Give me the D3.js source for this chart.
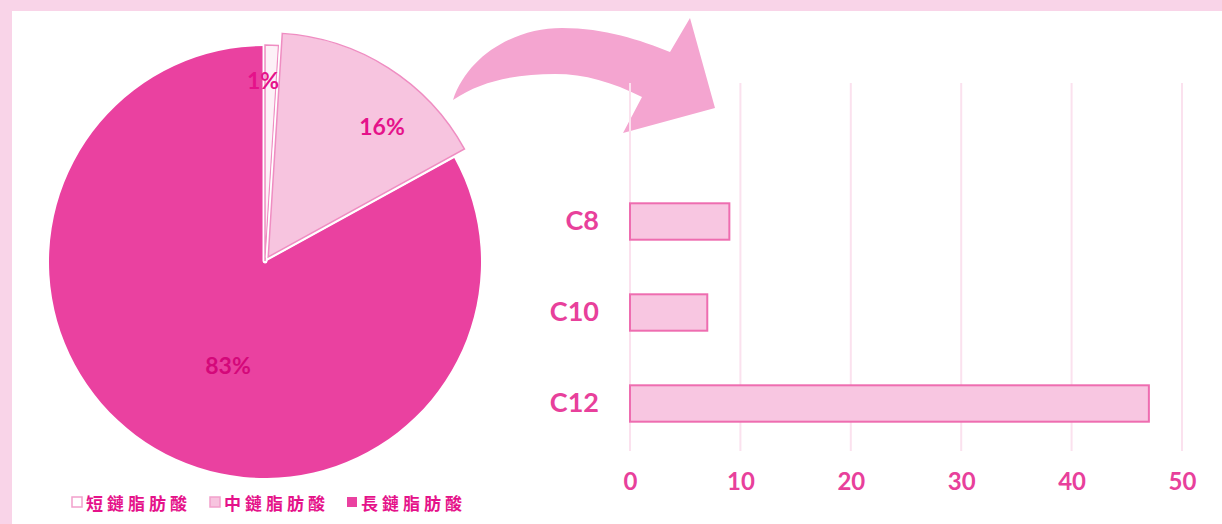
<!DOCTYPE html>
<html>
<head>
<meta charset="utf-8">
<script src="https://cdn.jsdelivr.net/npm/d3@7"></script>
<style>
  html, body { margin: 0; padding: 0; background: #fff; }
  svg { display: block; }
</style>
</head>
<body>
<div id="chart"></div>
<script>
// pie: fatty acid chain-length split (%)
const pieLabels = ["短鏈脂肪酸", "中鏈脂肪酸", "長鏈脂肪酸"];
const pieValues = [1, 16, 83];
const pieText = ["1%", "16%", "83%"];

// bars: medium-chain breakdown
const barCategories = ["C8", "C10", "C12"];
const barValues = [9, 7, 47];
const xTicks = [0, 10, 20, 30, 40, 50];

const width = 1222, height = 524;
const pink = "#e8409b";
const textPink = "#e5128a";

const svg = d3.select("#chart").append("svg")
  .attr("width", width).attr("height", height);

// frame
svg.append("rect").attr("width", width).attr("height", height).attr("fill", "#f9d4e8");
svg.append("rect").attr("x", 12).attr("y", 11).attr("width", width - 12).attr("height", height - 11).attr("fill", "#fff");

// ---- pie ----
const cx = 265, cy = 262, r = 216;
const pie = d3.pie().sort(null).value((d) => d);
const arcs = pie(pieValues);
const fills = ["#fdf1f7", "#f7c4df", "#ea41a0"];
const strokes = ["#ef8dc2", "#ef8dc2", "none"];
const explode = [1, 6, 0];
const outerR = [r, 224, r];

const pieG = svg.append("g").attr("transform", `translate(${cx},${cy})`);

// big slice first, so exploded ones sit on top
[2, 0, 1].forEach((i) => {
  const a = arcs[i];
  const mid = (a.startAngle + a.endAngle) / 2;
  const dx = Math.sin(mid) * explode[i], dy = -Math.cos(mid) * explode[i];
  const arc = d3.arc().innerRadius(0).outerRadius(outerR[i]);
  const g = pieG.append("g").attr("transform", `translate(${dx},${dy})`);
  if (i !== 2) {
    g.append("path").attr("d", arc(a)).attr("fill", "none")
      .attr("stroke", "#fff").attr("stroke-width", 5).attr("stroke-linejoin", "round");
  }
  g.append("path").attr("d", arc(a)).attr("fill", fills[i])
    .attr("stroke", strokes[i]).attr("stroke-width", 1.5);
});

// slice labels
const labelPos = [[-2, -182], [117, -136], [-37, 103]];
pieG.selectAll("text.pl").data(pieText).join("text")
  .attr("class", "pl")
  .attr("x", (d, i) => labelPos[i][0])
  .attr("y", (d, i) => labelPos[i][1])
  .attr("text-anchor", "middle").attr("dominant-baseline", "central")
  .attr("font-family", "Lato, 'Open Sans', sans-serif").attr("font-weight", 700)
  .attr("font-size", 23).attr("fill", (d, i) => i === 2 ? "#d4087a" : textPink)
  .text((d) => d);

// legend
const legX = [72, 210, 347];
const leg = svg.append("g").attr("transform", "translate(0,502)");
pieLabels.forEach((name, i) => {
  leg.append("rect").attr("x", legX[i]).attr("y", -5).attr("width", 10).attr("height", 10)
    .attr("fill", i === 0 ? "#fff" : i === 1 ? "#f7c4df" : "#ea41a0")
    .attr("stroke", i === 2 ? "none" : "#f2a0cc").attr("stroke-width", 1.5);
  leg.append("text").attr("x", legX[i] + 14).attr("y", 0)
    .attr("dominant-baseline", "central")
    .attr("font-family", "'Noto Sans CJK TC', sans-serif").attr("font-weight", 700)
    .attr("font-size", 17).attr("letter-spacing", 4).attr("fill", textPink)
    .text(name);
});

// ---- curved arrow (decoration) ----
svg.append("path")
  .attr("d", "M453,100 C468,55 515,28 562,28 C605,28 640,40 670,52 L690,18 L715,108 L623,133 L642,97 C612,82 585,74 555,74 C518,74 482,80 453,100 Z")
  .attr("fill", "#f4a5d0");

// ---- bar chart ----
const x = d3.scaleLinear().domain([0, 50]).range([630, 1182]);
const y = d3.scaleBand().domain(barCategories).range([176, 449])
  .paddingInner(0.6).paddingOuter(0.3);

// grid lines
svg.append("g").selectAll("line").data(xTicks).join("line")
  .attr("x1", (d) => x(d)).attr("x2", (d) => x(d))
  .attr("y1", 83).attr("y2", 451)
  .attr("stroke", "#fbe1ee").attr("stroke-width", 2);

// x axis labels
const xAxis = d3.axisBottom(x).tickValues(xTicks).tickSize(0).tickPadding(0);
const xg = svg.append("g").attr("transform", "translate(0,473)").call(xAxis);
xg.select(".domain").remove();
xg.selectAll("text")
  .attr("font-family", "Lato, 'Open Sans', sans-serif").attr("font-weight", 700)
  .attr("font-size", 24).attr("fill", pink);

// y axis labels
const yAxis = d3.axisLeft(y).tickSize(0).tickPadding(0);
const yg = svg.append("g").attr("transform", "translate(599,0)").call(yAxis);
yg.select(".domain").remove();
yg.selectAll("text")
  .attr("font-family", "Lato, 'Open Sans', sans-serif").attr("font-weight", 700)
  .attr("font-size", 27).attr("fill", pink);

// bars
svg.append("g").selectAll("rect").data(barValues).join("rect")
  .attr("x", x(0))
  .attr("y", (d, i) => y(barCategories[i]))
  .attr("width", (d) => x(d) - x(0))
  .attr("height", y.bandwidth())
  .attr("fill", "#f8c6e1").attr("stroke", "#ee6db0").attr("stroke-width", 2);
</script>
</body>
</html>
